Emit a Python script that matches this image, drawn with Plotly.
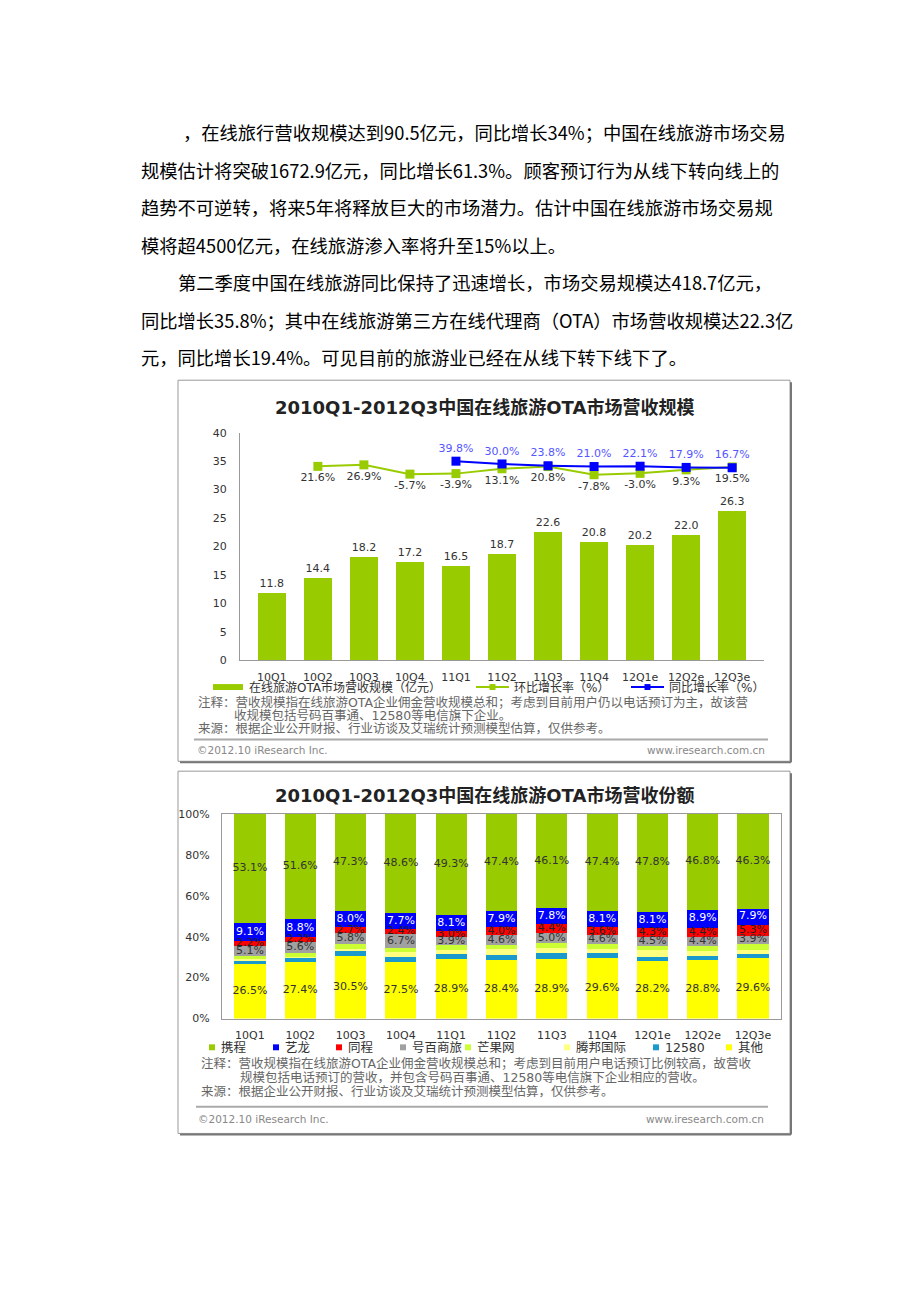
import plotly.graph_objects as go

# page body has an 8px margin, so the figure is drawn 8px in from the window edge
OFF = 8
W, H = 904, 1270
def X(px): return (px - OFF) / W
def Y(py): return 1 - (py - OFF) / H

# ---------------- data ----------------
quarters = ["10Q1", "10Q2", "10Q3", "10Q4", "11Q1", "11Q2", "11Q3", "11Q4", "12Q1e", "12Q2e", "12Q3e"]
revenue = [11.8, 14.4, 18.2, 17.2, 16.5, 18.7, 22.6, 20.8, 20.2, 22.0, 26.3]
qoq_growth = [None, 21.6, 26.9, -5.7, -3.9, 13.1, 20.8, -7.8, -3.0, 9.3, 19.5]
yoy_growth = [None, None, None, None, 39.8, 30.0, 23.8, 21.0, 22.1, 17.9, 16.7]

share_ctrip = [53.1, 51.6, 47.3, 48.6, 49.3, 47.4, 46.1, 47.4, 47.8, 46.8, 46.3]
share_elong = [9.1, 8.8, 8.0, 7.7, 8.1, 7.9, 7.8, 8.1, 8.1, 8.9, 7.9]
share_ly = [2.2, 2.2, 2.7, 2.4, 3.0, 4.0, 4.4, 3.6, 4.3, 4.4, 5.3]
share_haobai = [5.1, 5.6, 5.8, 6.7, 3.9, 4.6, 5.0, 4.6, 4.5, 4.4, 3.9]
share_mango = [1.5, 1.5, 2.4, 2.3, 2.1, 2.2, 2.3, 2.2, 2.0, 2.3, 3.1]
share_tempus = [0.4, 0.3, 0.2, 2.3, 2.1, 2.9, 2.4, 2.0, 3.1, 2.8, 2.2]
share_12580 = [2.1, 2.6, 3.1, 2.5, 2.6, 2.6, 3.1, 2.5, 2.0, 1.6, 1.7]
share_other = [26.5, 27.4, 30.5, 27.5, 28.9, 28.4, 28.9, 29.6, 28.2, 28.8, 29.6]

y_ticks_top = [0, 5, 10, 15, 20, 25, 30, 35, 40]
y_ticks_bottom = [0, 20, 40, 60, 80, 100]
y_ticklabels_bottom = ["0%", "20%", "40%", "60%", "80%", "100%"]

para1 = [
    "，在线旅行营收规模达到90.5亿元，同比增长34%；中国在线旅游市场交易",
    "规模估计将突破1672.9亿元，同比增长61.3%。顾客预订行为从线下转向线上的",
    "趋势不可逆转，将来5年将释放巨大的市场潜力。估计中国在线旅游市场交易规",
    "模将超4500亿元，在线旅游渗入率将升至15%以上。",
]
para2 = [
    "第二季度中国在线旅游同比保持了迅速增长，市场交易规模达418.7亿元，",
    "同比增长35.8%；其中在线旅游第三方在线代理商（OTA）市场营收规模达22.3亿",
    "元，同比增长19.4%。可见目前的旅游业已经在从线下转下线下了。",
]

# ---------------- styles ----------------
CF = "DejaVu Sans, Noto Sans CJK SC"
PAGE_F = "Noto Sans CJK SC"
GREEN = "#99cc00"
BLUE = "#0000ff"

fig = go.Figure()

# ---- top chart ----
fig.add_trace(go.Bar(
    x=quarters, y=revenue, marker_color=GREEN, marker_line_width=0,
    text=[f"{v:.1f}" for v in revenue], textposition="outside",
    textfont=dict(size=11, color="#333", family=CF), cliponaxis=False,
    constraintext="none", xaxis="x", yaxis="y", showlegend=False))

fig.add_trace(go.Scatter(
    x=quarters, y=qoq_growth, mode="lines+markers+text",
    line=dict(color=GREEN, width=2), marker=dict(symbol="square", size=9, color=GREEN),
    text=[("" if v is None else f"{v:.1f}%") for v in qoq_growth],
    textposition="bottom center", textfont=dict(size=11, color="#333", family=CF),
    xaxis="x", yaxis="y2", showlegend=False, cliponaxis=False))

fig.add_trace(go.Scatter(
    x=quarters, y=yoy_growth, mode="lines+markers+text",
    line=dict(color=BLUE, width=2), marker=dict(symbol="square", size=9, color=BLUE),
    text=[("" if v is None else f"{v:.1f}%") for v in yoy_growth],
    textposition="top center", textfont=dict(size=11, color="#5555ff", family=CF),
    xaxis="x", yaxis="y2", showlegend=False, cliponaxis=False))

# ---- bottom chart ----
series = [
    ("其他", share_other, "#ffff00", "#333"),
    ("12580", share_12580, "#1a9acc", None),
    ("腾邦国际", share_tempus, "#ffff80", None),
    ("芒果网", share_mango, "#ccff33", None),
    ("号百商旅", share_haobai, "#a0a0a0", "#333"),
    ("同程", share_ly, "#ff0000", "#222"),
    ("艺龙", share_elong, "#0000ff", "#ffffff"),
    ("携程", share_ctrip, GREEN, "#333"),
]
base = [0.0] * len(quarters)
for name, vals, col, tcol in series:
    fig.add_trace(go.Bar(x=quarters, y=vals, name=name, marker_color=col,
                         marker_line_width=0, xaxis="x2", yaxis="y3", showlegend=False))
    if tcol is not None:
        mids = [b + v / 2 for b, v in zip(base, vals)]
        fig.add_trace(go.Scatter(x=quarters, y=mids, mode="text",
                                 text=[f"{v:.1f}%" for v in vals],
                                 textfont=dict(size=11, color=tcol, family=CF),
                                 xaxis="x2", yaxis="y3", showlegend=False, cliponaxis=False))
    base = [b + v for b, v in zip(base, vals)]

shapes = []
annotations = []

def ann(x, y, t, size=12, color="#333", anchor="left", family=CF):
    annotations.append(dict(xref="paper", yref="paper", x=X(x), y=Y(y), text=t, showarrow=False,
                            xanchor=anchor, yanchor="middle",
                            font=dict(size=size, color=color, family=family)))

# page text
line_ys1 = [127, 165.5, 203.5, 241.5]
for i, (t, yy) in enumerate(zip(para1, line_ys1)):
    ann(181 if i == 0 else 139, yy, t, 18.3, "#000", "left", PAGE_F)
line_ys2 = [279, 317, 354.5]
for i, (t, yy) in enumerate(zip(para2, line_ys2)):
    ann(176 if i == 0 else 139, yy, t, 18.3, "#000", "left", PAGE_F)

# boxes
for (x0, y0, x1, y1) in [(178, 378, 790, 763), (178, 773, 790, 1139)]:
    shapes.append(dict(type="rect", xref="paper", yref="paper", x0=X(x0), x1=X(x1), y0=Y(y1), y1=Y(y0),
                       line=dict(color="#9a9a9a", width=1)))
    shapes.append(dict(type="line", xref="paper", yref="paper", x0=X(x0 + 2), x1=X(x1 + 1), y0=Y(y1 + 1), y1=Y(y1 + 1),
                       line=dict(color="#777", width=2)))
    shapes.append(dict(type="line", xref="paper", yref="paper", x0=X(x1 + 1), x1=X(x1 + 1), y0=Y(y1 + 1), y1=Y(y0 + 2),
                       line=dict(color="#777", width=2)))

# titles
ann(485, 406, "<b>2010Q1-2012Q3中国在线旅游OTA市场营收规模</b>", 18, "#222", "center")
ann(485, 798, "<b>2010Q1-2012Q3中国在线旅游OTA市场营收份额</b>", 18, "#222", "center")

# top legend
shapes.append(dict(type="rect", xref="paper", yref="paper", x0=X(213), x1=X(243), y0=Y(691), y1=Y(685),
                   fillcolor=GREEN, line_width=0))
ann(247, 688, "在线旅游OTA市场营收规模（亿元）")
shapes.append(dict(type="line", xref="paper", yref="paper", x0=X(476), x1=X(509), y0=Y(688), y1=Y(688),
                   line=dict(color=GREEN, width=2)))
shapes.append(dict(type="rect", xref="paper", yref="paper", x0=X(489.5), x1=X(495.5), y0=Y(691), y1=Y(685),
                   fillcolor=GREEN, line_width=0))
ann(512, 688, "环比增长率（%）")
shapes.append(dict(type="line", xref="paper", yref="paper", x0=X(631), x1=X(664), y0=Y(688), y1=Y(688),
                   line=dict(color=BLUE, width=2)))
shapes.append(dict(type="rect", xref="paper", yref="paper", x0=X(644.5), x1=X(650.5), y0=Y(691), y1=Y(685),
                   fillcolor=BLUE, line_width=0))
ann(667, 688, "同比增长率（%）")

# top notes
NOTE_C = "#666"
ann(196, 704, "注释：营收规模指在线旅游OTA企业佣金营收规模总和；考虑到目前用户仍以电话预订为主，故该营", 12.5, NOTE_C)
ann(232, 717, "收规模包括号码百事通、12580等电信旗下企业。", 12.5, NOTE_C)
ann(196, 730, "来源：根据企业公开财报、行业访谈及艾瑞统计预测模型估算，仅供参考。", 12.5, NOTE_C)
shapes.append(dict(type="line", xref="paper", yref="paper", x0=X(194), x1=X(768), y0=Y(741), y1=Y(741),
                   line=dict(color="#aaa", width=2)))
ann(195, 752, "©2012.10 iResearch Inc.", 10.5, "#888")
ann(767, 752, "www.iresearch.com.cn", 10.5, "#888", "right")

# bottom legend
leg = [("携程", GREEN, 212), ("艺龙", "#0000ff", 276), ("同程", "#ff0000", 339), ("号百商旅", "#a0a0a0", 403),
       ("芒果网", "#ccff33", 468), ("腾邦国际", "#ffff80", 567), ("12580", "#1a9acc", 656), ("其他", "#ffff00", 729)]
for name, col, lx in leg:
    shapes.append(dict(type="rect", xref="paper", yref="paper", x0=X(lx - 3), x1=X(lx + 3), y0=Y(1055), y1=Y(1049),
                       fillcolor=col, line_width=0))
    ann(lx + 7, 1052, name, 12.5, "#333")

ann(199, 1068, "注释：营收规模指在线旅游OTA企业佣金营收规模总和；考虑到目前用户电话预订比例较高，故营收", 12.5, NOTE_C)
ann(238, 1083, "规模包括电话预订的营收，并包含号码百事通、12580等电信旗下企业相应的营收。", 12.5, NOTE_C)
ann(199, 1097, "来源：根据企业公开财报、行业访谈及艾瑞统计预测模型估算，仅供参考。", 12.5, NOTE_C)
shapes.append(dict(type="line", xref="paper", yref="paper", x0=X(196), x1=X(768), y0=Y(1112), y1=Y(1112),
                   line=dict(color="#aaa", width=2)))
ann(196, 1124, "©2012.10 iResearch Inc.", 10.5, "#888")
ann(766, 1124, "www.iresearch.com.cn", 10.5, "#888", "right")

fig.update_layout(
    width=W, height=H, margin=dict(l=0, r=0, t=0, b=0),
    paper_bgcolor="white", plot_bgcolor="rgba(0,0,0,0)",
    barmode="stack", bargap=0.38, showlegend=False,
    font=dict(family=CF, size=11, color="#333"),
    xaxis=dict(domain=[X(240), X(764)], anchor="y", type="category", showline=True, linecolor="#999",
               linewidth=1, ticks="", showgrid=False, tickfont=dict(size=11, color="#333"),
               ticklabelstandoff=6, tickangle=0),
    yaxis=dict(domain=[Y(661), Y(431)], anchor="x", range=[0, 40], tickvals=y_ticks_top,
               showline=True, linecolor="#999", linewidth=1, ticks="", showgrid=False, zeroline=False,
               tickfont=dict(size=11, color="#333"), ticklabelstandoff=10),
    yaxis2=dict(overlaying="y", range=[-660, 140], visible=False),
    xaxis2=dict(domain=[X(222), X(781)], anchor="y3", type="category", showline=True, mirror=True,
                linecolor="#999", linewidth=1, ticks="", showgrid=False, tickfont=dict(size=11, color="#333"),
                ticklabelstandoff=6, tickangle=0),
    yaxis3=dict(domain=[Y(1023), Y(816)], anchor="x2", range=[0, 100], tickvals=y_ticks_bottom,
                ticktext=y_ticklabels_bottom, showline=True, mirror=True, linecolor="#999", linewidth=1,
                ticks="", showgrid=False, zeroline=False, tickfont=dict(size=11, color="#333"),
                ticklabelstandoff=9),
    shapes=shapes, annotations=annotations,
)

fig.write_html("out.html")
